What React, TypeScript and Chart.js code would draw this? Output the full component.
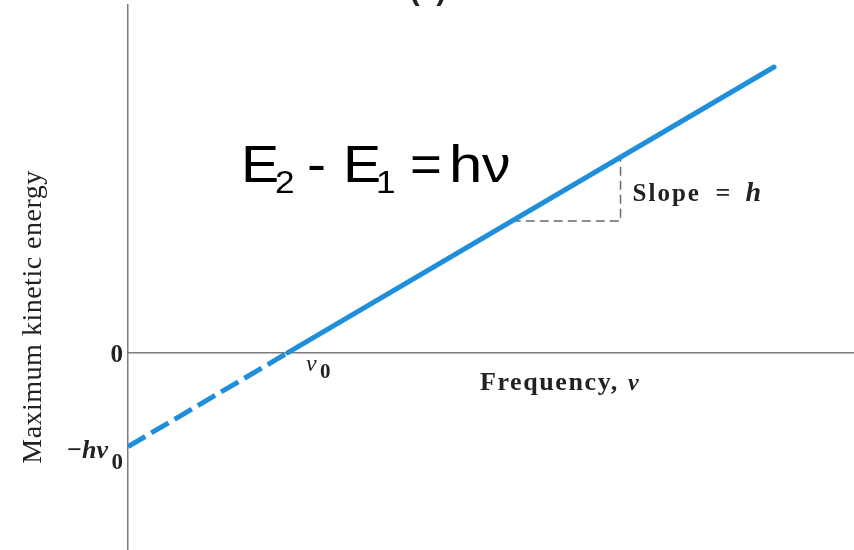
import React, { useEffect, useRef } from "react";
import { Chart, registerables } from "chart.js";

Chart.register(...registerables);

// Photoelectric effect: maximum kinetic energy vs frequency (units: ν0 = 1, h·ν0 = 1)
const lineNu = [0, 1, 4.04];
const lineEnergy = [-1, 0, 3.04];
// slope triangle corners (ν, energy)
const triangleNu = [2.4, 3.08, 3.08];
const triangleEnergy = [1.4, 1.4, 2.08];

const xRange = [0, 4.54];
const yRange = [-2.1, 3.7];

const yTickValues = [0, -1];
const xTickValue = 1;

const lineBlue = "#1f8fdb";
const inkColor = "#222222";

function pts(xs: number[], ys: number[]) {
  return xs.map((x, i) => ({ x, y: ys[i] }));
}

const labelsPlugin = {
  id: "physicsLabels",
  afterDraw(chart: any) {
    const { ctx, scales } = chart;
    const xs = scales.x;
    const ys = scales.y;
    const left = chart.chartArea.left;
    ctx.save();
    ctx.fillStyle = inkColor;
    ctx.textBaseline = "alphabetic";

    // y-axis title
    ctx.save();
    ctx.translate(34, 317);
    ctx.rotate(-Math.PI / 2);
    ctx.textAlign = "center";
    ctx.textBaseline = "middle";
    ctx.font = '28px "Liberation Serif"';
    (ctx as any).letterSpacing = "0.5px";
    ctx.fillText("Maximum kinetic energy", 0, 0);
    (ctx as any).letterSpacing = "0px";
    ctx.restore();

    // "0" tick on the energy axis
    const y0 = ys.getPixelForValue(yTickValues[0]);
    ctx.textAlign = "right";
    ctx.font = 'bold 25px "Liberation Serif"';
    ctx.fillText("0", left - 5, y0 + 9);

    // "−hν0" tick
    const y1 = ys.getPixelForValue(yTickValues[1]);
    ctx.font = 'bold 23px "Liberation Serif"';
    ctx.fillText("0", left - 5, y1 + 22);
    ctx.font = 'italic bold 26px "Liberation Serif"';
    ctx.fillText("−hν", left - 20, y1 + 11);

    // "ν0" on the frequency axis
    const x1 = xs.getPixelForValue(xTickValue);
    const xa = ys.getPixelForValue(0);
    ctx.textAlign = "left";
    ctx.font = 'italic 24px "Liberation Serif"';
    ctx.fillText("ν", x1 + 18, xa + 18);
    ctx.font = 'bold 21px "Liberation Serif"';
    ctx.fillText("0", x1 + 32, xa + 25);

    // x-axis title
    ctx.font = 'bold 26px "Liberation Serif"';
    (ctx as any).letterSpacing = "1.6px";
    ctx.fillText("Frequency,", x1 + 192, xa + 37);
    (ctx as any).letterSpacing = "0px";
    ctx.font = 'italic bold 24px "Liberation Serif"';
    ctx.fillText("ν", x1 + 340, xa + 37);

    // slope annotation
    const tx = xs.getPixelForValue(triangleNu[1]);
    const ty = ys.getPixelForValue(triangleEnergy[2]);
    ctx.font = 'bold 25px "Liberation Serif"';
    (ctx as any).letterSpacing = "2px";
    ctx.fillText("Slope", tx + 12, ty + 44);
    (ctx as any).letterSpacing = "0px";
    ctx.font = 'bold 26px "Liberation Serif"';
    ctx.fillText("=", tx + 95, ty + 44);
    ctx.font = 'italic bold 28px "Liberation Serif"';
    ctx.fillText("h", tx + 125, ty + 44);

    // figure tag at the top
    ctx.textAlign = "center";
    ctx.font = 'bold 30px "Liberation Sans"';
    ctx.fillText("(a)", 428, 0);

    // equation
    ctx.fillStyle = "#000000";
    ctx.textAlign = "left";
    const piece = (t: string, x: number, y: number, size: number, scale: number) => {
      ctx.save();
      ctx.translate(x, y);
      ctx.scale(scale, 1);
      ctx.font = `${size}px "Liberation Sans"`;
      ctx.fillText(t, 0, 0);
      ctx.restore();
    };
    piece("E", 241, 182, 52, 1.1);
    piece("2", 275, 193, 32, 1.1);
    piece("-", 307, 182, 52, 1.1);
    piece("E", 343, 182, 52, 1.1);
    piece("1", 376, 193, 32, 1.1);
    piece("=", 410, 182, 52, 1.05);
    piece("h", 449, 182, 52, 1.15);
    piece("ν", 482, 182, 52, 1.1);

    ctx.restore();
  },
};

export default function App() {
  const canvasRef = useRef<HTMLCanvasElement | null>(null);

  useEffect(() => {
    const canvas = canvasRef.current;
    if (!canvas) return;
    const chart = new Chart(canvas, {
      type: "line",
      data: {
        datasets: [
          {
            data: pts(lineNu.slice(0, 2), lineEnergy.slice(0, 2)),
            borderColor: lineBlue,
            borderWidth: 5,
            borderDash: [20, 7],
            borderCapStyle: "butt",
            pointRadius: 0,
            tension: 0,
          },
          {
            data: pts(lineNu.slice(1), lineEnergy.slice(1)),
            borderColor: lineBlue,
            borderWidth: 5,
            borderCapStyle: "round",
            pointRadius: 0,
            tension: 0,
          },
          {
            data: pts(triangleNu, triangleEnergy),
            borderColor: "#6a6a6a",
            borderWidth: 1.5,
            borderDash: [9, 5],
            pointRadius: 0,
            tension: 0,
          },
        ],
      },
      options: {
        animation: false,
        responsive: false,
        layout: { padding: { left: 128, top: 5, right: 0, bottom: 0 } },
        plugins: { legend: { display: false }, tooltip: { enabled: false } },
        scales: {
          x: {
            type: "linear",
            min: xRange[0],
            max: xRange[1],
            position: { y: 0 } as any,
            grid: { display: false, drawTicks: false },
            ticks: { display: false },
            border: { display: true, color: "#7c7c7c", width: 1.5 },
          },
          y: {
            type: "linear",
            min: yRange[0],
            max: yRange[1],
            grid: { display: false, drawTicks: false },
            ticks: { display: false },
            border: { display: true, color: "#7c7c7c", width: 1.5 },
          },
        },
      },
      plugins: [labelsPlugin],
    });
    return () => chart.destroy();
  }, []);

  return (
    <div style={{ position: "fixed", left: 0, top: 0, width: 854, height: 550, background: "#ffffff" }}>
      <canvas ref={canvasRef} width={854} height={550} style={{ display: "block" }} />
    </div>
  );
}
